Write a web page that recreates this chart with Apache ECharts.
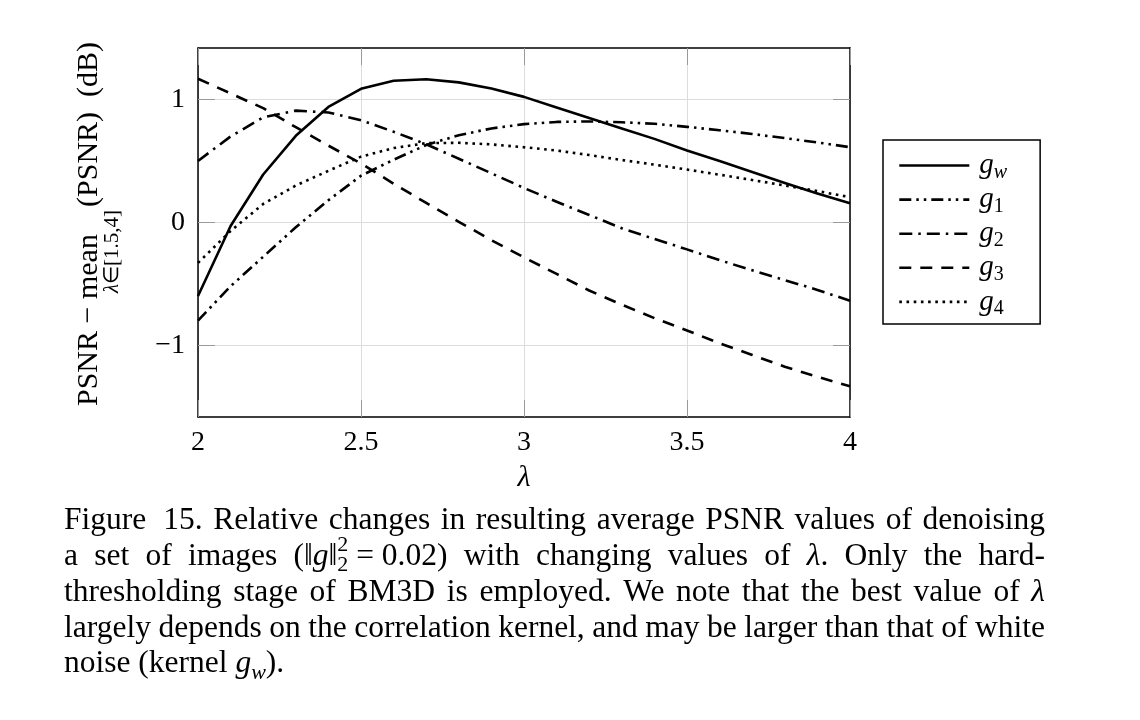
<!DOCTYPE html>
<html><head><meta charset="utf-8">
<script src="https://cdn.jsdelivr.net/npm/echarts@6/dist/echarts.min.js"></script>
<style>html,body{margin:0;padding:0;background:#fff}#c{width:1140px;height:720px}</style>
</head><body><div id="c"></div>
<script>
// ---------- data ----------
const lambdas = [2.0, 2.1, 2.2, 2.3, 2.4, 2.5, 2.6, 2.7, 2.8, 2.9, 3.0, 3.1, 3.2, 3.3, 3.4, 3.5, 3.6, 3.7, 3.8, 3.9, 4.0];
const gw = [-0.60, -0.03, 0.39, 0.705, 0.94, 1.088, 1.153, 1.165, 1.14, 1.09, 1.022, 0.935, 0.85, 0.765, 0.68, 0.585, 0.50, 0.41, 0.32, 0.235, 0.155];
const g1 = [-0.80, -0.52, -0.28, -0.04, 0.18, 0.38, 0.51, 0.63, 0.71, 0.765, 0.80, 0.818, 0.822, 0.815, 0.803, 0.778, 0.75, 0.72, 0.686, 0.651, 0.612];
const g2 = [0.50, 0.70, 0.855, 0.91, 0.895, 0.832, 0.738, 0.636, 0.518, 0.40, 0.28, 0.168, 0.06, -0.048, -0.135, -0.22, -0.308, -0.39, -0.47, -0.55, -0.638];
const g3 = [1.17, 1.05, 0.93, 0.775, 0.625, 0.48, 0.315, 0.158, 0.005, -0.145, -0.285, -0.42, -0.555, -0.67, -0.78, -0.88, -0.985, -1.08, -1.175, -1.258, -1.335];
const g4 = [-0.33, -0.07, 0.15, 0.30, 0.42, 0.535, 0.605, 0.645, 0.648, 0.635, 0.612, 0.585, 0.548, 0.508, 0.47, 0.43, 0.388, 0.345, 0.30, 0.255, 0.205];
const seriesNames = ['g_w', 'g_1', 'g_2', 'g_3', 'g_4'];
const seriesValues = [gw, g1, g2, g3, g4];
const yTickValues = [-1, 0, 1];
const captionLines = [
  'Figure 15.  Relative changes in resulting average PSNR values of denoising',
  'a set of images (‖{i:g}‖{sup:2}{sub:2}\u00a0=\u00a00.02) with changing values of {i:λ}. Only the hard-',
  'thresholding stage of BM3D is employed. We note that the best value of {i:λ}',
  'largely depends on the correlation kernel, and may be larger than that of white',
  'noise (kernel {i:g}{isub:w}).'
];

// ---------- styles ----------
const SERIF = '"Liberation Serif", "Times New Roman", serif';
const dashStyles = ['solid', [12, 5, 2.5, 5, 2.5, 5], [13, 6, 2.5, 6], [12, 9], [2.6, 4.6]];
const X0 = 2, X1 = 4, Y0 = -1.585, Y1 = 1.42;

const mctx = document.createElement('canvas').getContext('2d');
function fontStr(size, italic) { return (italic ? 'italic ' : '') + size + 'px ' + SERIF; }
function tw(text, size, italic) { mctx.font = fontStr(size, italic); return mctx.measureText(text).width; }

function parseSegs(str) {
  const re = /\{(i|sup|sub|isub):([^}]*)\}|([^{]+)/g; const out = []; let m;
  while ((m = re.exec(str))) { if (m[3] !== undefined) out.push({ k: 'n', t: m[3] }); else out.push({ k: m[1], t: m[2] }); }
  return out;
}
function laySegs(segs, x, y, size, smallSize) {
  const els = []; let cx = x; let supStart = null, supW = 0;
  const small = smallSize || Math.round(size * 0.7);
  segs.forEach(s => {
    let sz = size, it = false, dy = 0, at = cx;
    if (s.k === 'i') { it = true; }
    else if (s.k === 'sup') { sz = small; dy = -size * 0.36; supStart = cx; }
    else if (s.k === 'sub') { sz = small; dy = size * 0.28; if (supStart !== null) at = supStart; }
    else if (s.k === 'isub') { sz = small; it = true; dy = size * 0.28; }
    const w = tw(s.t, sz, it);
    els.push({ type: 'text', silent: true, style: { text: s.t, x: at, y: y + dy, font: fontStr(sz, it), fill: '#000', align: 'left', verticalAlign: 'middle', textAlign: 'left', textVerticalAlign: 'middle' } });
    if (s.k === 'sup') { supW = w; cx = at + w; }
    else if (s.k === 'sub' && supStart !== null) { cx = Math.max(supStart + supW, at + w); supStart = null; }
    else cx = at + w;
  });
  return { els, w: cx - x };
}

// ---------- caption ----------
const CAP_L = 64, CAP_R = 1045, CAP_Y0 = 521, CAP_DY = 35.8;
function splitWords(line) {
  const raw = line.split(' '); const words = []; const gaps = [];
  raw.forEach(r => { if (r === '') { if (gaps.length) gaps[gaps.length - 1] += 0.6; } else { if (words.length) gaps.push(1); words.push(parseSegs(r)); } });
  return { words, gaps };
}
let CAP_SIZE = 32;
for (; CAP_SIZE > 24; CAP_SIZE -= 0.5) {
  const sp = tw(' ', CAP_SIZE, false);
  const ok = captionLines.slice(0, -1).every(line => {
    const { words, gaps } = splitWords(line);
    const w = words.reduce((a, ws) => a + laySegs(ws, 0, 0, CAP_SIZE).w, 0) + gaps.reduce((a, b) => a + b, 0) * sp * 0.85;
    return w <= CAP_R - CAP_L;
  });
  if (ok) break;
}
const capEls = [];
captionLines.forEach((line, li) => {
  const y = CAP_Y0 + li * CAP_DY;
  const { words, gaps } = splitWords(line);
  const widths = words.map(ws => laySegs(ws, 0, 0, CAP_SIZE).w);
  const sumW = widths.reduce((a, b) => a + b, 0);
  const totG = gaps.reduce((a, b) => a + b, 0);
  const justify = li < captionLines.length - 1;
  const unit = justify ? (CAP_R - CAP_L - sumW) / totG : tw(' ', CAP_SIZE, false);
  let x = CAP_L;
  words.forEach((ws, wi) => {
    const r = laySegs(ws, x, y, CAP_SIZE); capEls.push(...r.els);
    x += r.w + (wi < gaps.length ? gaps[wi] * unit : 0);
  });
});

// ---------- y axis title (rotated) ----------
const YT_SIZE = 30, YT_SUB = 21;
const ytEls = [];
let lx = 0;
const r1 = laySegs(parseSegs('PSNR − '), lx, 0, YT_SIZE); ytEls.push(...r1.els); lx += r1.w;
const meanStart = lx;
const r2 = laySegs(parseSegs('mean'), lx, 0, YT_SIZE); ytEls.push(...r2.els);
const subSegs = parseSegs('{i:λ}∈[1.5,4]');
let scx = meanStart + 6;
subSegs.forEach(s => { const it = s.k === 'i'; const w = tw(s.t, YT_SUB, it);
  ytEls.push({ type: 'text', silent: true, style: { text: s.t, x: scx, y: 23, font: fontStr(YT_SUB, it), fill: '#000', align: 'left', verticalAlign: 'middle', textAlign: 'left', textVerticalAlign: 'middle' } }); scx += w; });
lx = Math.max(meanStart + r2.w, scx) + 3;
const r4 = laySegs(parseSegs('(PSNR)\u00a0\u00a0(dB)'), lx, 0, YT_SIZE); ytEls.push(...r4.els);

// ---------- chart ----------
const chart = echarts.init(document.getElementById('c'), null, { renderer: 'canvas' });
const labelText = { fontFamily: SERIF, fontSize: 28, color: '#000' };
function legendFmt(n) { const p = n.split('_'); return '{g|' + p[0] + '}' + (isNaN(+p[1]) ? '{s|' + p[1] + '}' : '{d|' + p[1] + '}'); }

const option = {
  animation: false,
  backgroundColor: '#fff',
  grid: { left: 198, right: 290, top: 48, bottom: 303, containLabel: false },
  xAxis: [
    { type: 'value', min: X0, max: X1, interval: 0.5, position: 'bottom',
      axisLine: { show: true, onZero: false, lineStyle: { color: '#000', width: 1.5 } },
      axisTick: { show: true, inside: true, length: 17, lineStyle: { color: '#9a9a9a', width: 1 } },
      splitLine: { show: true, lineStyle: { color: '#dcdcdc', width: 1 } },
      axisLabel: Object.assign({ margin: 12 }, labelText),
      name: 'λ', nameLocation: 'middle', nameGap: 46,
      nameTextStyle: { fontFamily: SERIF, fontStyle: 'italic', fontSize: 30, color: '#000' } },
    { type: 'value', min: X0, max: X1, interval: 0.5, position: 'top',
      axisLine: { show: true, onZero: false, lineStyle: { color: '#000', width: 1.5 } },
      axisTick: { show: true, inside: true, length: 17, lineStyle: { color: '#9a9a9a', width: 1 } },
      splitLine: { show: false }, axisLabel: { show: false } }
  ],
  yAxis: [
    { type: 'value', min: Y0, max: Y1, position: 'left',
      axisLine: { show: true, onZero: false, lineStyle: { color: '#000', width: 1.5 } },
      axisTick: { show: true, inside: true, length: 17, customValues: yTickValues, lineStyle: { color: '#9a9a9a', width: 1 } },
      splitLine: { show: true, lineStyle: { color: '#dcdcdc', width: 1 } },
      axisLabel: Object.assign({ margin: 13, customValues: yTickValues, formatter: v => (v < 0 ? '−' + Math.abs(v) : String(v)) }, labelText) },
    { type: 'value', min: Y0, max: Y1, position: 'right',
      axisLine: { show: true, onZero: false, lineStyle: { color: '#000', width: 1.5 } },
      axisTick: { show: true, inside: true, length: 17, customValues: yTickValues, lineStyle: { color: '#9a9a9a', width: 1 } },
      splitLine: { show: false }, axisLabel: { show: false } }
  ],
  legend: {
    orient: 'vertical', left: 883, top: 140,
    padding: [11, 33, 5, 15], itemGap: 2.6, itemWidth: 70, itemHeight: 14,
    borderColor: '#000', borderWidth: 1.5, borderRadius: 0, backgroundColor: '#fff',
    selectedMode: false,
    itemStyle: { opacity: 0 },
    lineStyle: { width: 2.6 },
    data: seriesNames,
    formatter: legendFmt,
    textStyle: { color: '#000', padding: [0, 0, 0, 5],
      rich: {
        g: { fontFamily: SERIF, fontStyle: 'italic', fontSize: 29, lineHeight: 34, verticalAlign: 'middle', color: '#000' },
        s: { fontFamily: SERIF, fontStyle: 'italic', fontSize: 20, lineHeight: 24, verticalAlign: 'bottom', color: '#000' },
        d: { fontFamily: SERIF, fontSize: 20, lineHeight: 24, verticalAlign: 'bottom', color: '#000' }
      } }
  },
  series: seriesNames.map((n, i) => ({
    name: n, type: 'line', xAxisIndex: 0, yAxisIndex: 0, symbol: 'none', smooth: false,
    data: lambdas.map((l, j) => [l, seriesValues[i][j]]),
    lineStyle: { color: '#000', width: 2.6, type: dashStyles[i], cap: 'butt', join: 'round' },
    itemStyle: { color: '#000' }, emphasis: { disabled: true }, z: 3
  })),
  graphic: [
    { type: 'group', x: 89, y: 406, rotation: Math.PI / 2, silent: true, children: ytEls },
    { type: 'group', silent: true, children: capEls }
  ]
};
chart.setOption(option);
</script>
</body></html>
